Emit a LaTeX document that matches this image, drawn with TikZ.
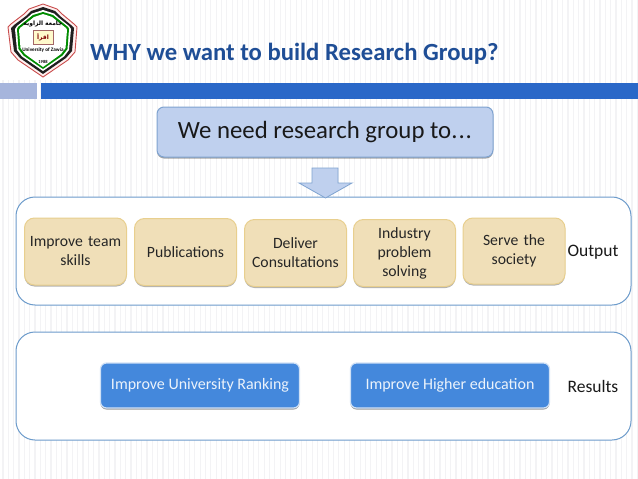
\documentclass[tikz,border=0pt]{standalone}
\usepackage{fontspec}
\setmainfont{Carlito}
\newfontfamily\arabicfont[Script=Arabic]{DejaVu Sans}
\TeXXeTstate=1
\usetikzlibrary{shadows}
\definecolor{titleblue}{HTML}{1F4E96}
\definecolor{barblue}{HTML}{2A68C8}
\definecolor{barlight}{HTML}{A6B5DC}
\definecolor{framel}{HTML}{6C9BCB}
\definecolor{topfill}{HTML}{BFD0EE}
\definecolor{topline}{HTML}{7FA3D0}
\definecolor{tan}{HTML}{F0DFB8}
\definecolor{tanline}{HTML}{E8CF8E}
\definecolor{btn}{HTML}{4488DC}
\definecolor{stripe}{HTML}{F3F3F5}
\tikzset{
  x=1pt,y=-1pt,
  frame/.style={draw=framel,line width=1pt,fill=white,rounded corners=19pt},
  tanbox/.style={draw=tanline,line width=1pt,fill=tan,rounded corners=10pt,
    drop shadow={shadow xshift=0pt,shadow yshift=-1.5pt,fill=black,opacity=.3},
    text width=102pt,align=center,font=\fontsize{15.7}{19}\selectfont,text=black!85,anchor=center,inner sep=0pt,minimum height=67pt},
  btnbox/.style={draw=btn!25!white,line width=1.2pt,fill=btn,rounded corners=6pt,text=white!90!btn,
    font=\fontsize{16}{18}\selectfont,inner sep=0pt,minimum width=199pt,
    minimum height=45pt,anchor=center,
    drop shadow={shadow xshift=0pt,shadow yshift=-1.5pt,fill=black,opacity=.4}},
  lbl/.style={font=\fontsize{17.5}{20}\selectfont,text=black!90,inner sep=0pt},
}
\begin{document}
\begin{tikzpicture}
\useasboundingbox (0,0) rectangle (638,479);
\fill[white] (0,0) rectangle (638,479);
\foreach \i in {0,...,119} {\draw[stripe,line width=1.2pt] ({3+\i*5.33},0) -- ({3+\i*5.33},479);}
% logo area
\fill[white] (2,0) rectangle (82,80);
% header bars
\fill[barlight] (0,83) rectangle (37,99);
\fill[barblue] (41,83) rectangle (638,99);
\node[anchor=west,inner sep=0pt,text=titleblue,font=\bfseries\fontsize{24.7}{28}\selectfont] (title) at (90,54) {WHY we want to build Research Group?};
% logo
\fill[draw=red!70!black!70,fill=red!6!white,line width=.9pt] (43,4) -- (57,9) -- (62,14) -- (74,24) -- (77,27) -- (75,52) -- (68,60) -- (43,77) -- (18,60) -- (11,52) -- (8,27) -- (11,24) -- (24,14) -- (29,9) -- cycle;
\fill[black!88] (43,7) -- (55,11) -- (60,16) -- (71,25) -- (74,28) -- (72,51) -- (66,58) -- (43,74) -- (20,58) -- (14,51) -- (11,28) -- (14,25) -- (26,16) -- (31,11) -- cycle;
\fill[white] (43,10) -- (54,13.5) -- (59,18) -- (69,26) -- (71,29) -- (69,50) -- (64,56.5) -- (43,71) -- (22,56.5) -- (17,50) -- (15,29) -- (17,26) -- (27,18) -- (32,13.5) -- cycle;
\fill[green!55!black] (43,12) -- (53,15) -- (58,19) -- (68,27) -- (69,29) -- (67.5,49) -- (62.5,55.5) -- (43,69) -- (23.5,55.5) -- (18.5,49) -- (17,29) -- (18,27) -- (28,19) -- (33,15) -- cycle;
\fill[white] (43,14) -- (52,17) -- (57,21) -- (66,28) -- (67,30) -- (65.5,48) -- (61,54) -- (43,67) -- (25,54) -- (20.5,48) -- (19,30) -- (20,28) -- (29,21) -- (34,17) -- cycle;
\fill[red!10!yellow!20!white,draw=red!40!black!60,line width=.5pt] (33,30) rectangle (53,44);
\node[inner sep=0pt,font=\arabicfont\bfseries\fontsize{6}{6}\selectfont,text=red!50!black] (lb) at (43,37) {\beginR اقرأ\endR};
\node[inner sep=0pt,font=\arabicfont\bfseries\fontsize{6}{6}\selectfont] (la) at (43,23.5) {\beginR جامعة الزاوية\endR};
\node[inner sep=0pt,font=\bfseries\fontsize{5.2}{5}\selectfont] (lu) at (43,50) {University of Zawia};
\node[inner sep=0pt,font=\bfseries\fontsize{4.5}{5}\selectfont] (ly) at (43,62) {1988};
% top box
\node[draw=topline,line width=1pt,fill=topfill,rounded corners=7pt,minimum width=336pt,minimum height=50pt,inner sep=0pt,
  drop shadow={shadow xshift=0pt,shadow yshift=-1.5pt,fill=black,opacity=.35},
  font=\fontsize{24.8}{28}\selectfont,text=black!90] (top) at (325,132) {\raisebox{-1pt}{We need research group to.\kern1pt.\kern1pt.}};
% frames
\draw[frame] (16,197) rectangle (631,305);
\draw[frame] (16,332) rectangle (631,440);
% down arrow
\filldraw[draw=topline,fill=topfill,line width=.8pt] (312,168) -- (338,168) -- (338,183) -- (352,183) -- (325.5,198) -- (299,183) -- (312,183) -- cycle;
% output boxes
\node[tanbox] (b1) at (75.5,251.5) {Improve team\\skills};
\node[tanbox] (b2) at (185.5,252) {Publications};
\node[tanbox] (b3) at (295.5,253) {Deliver\\Consultations};
\node[tanbox] (b4) at (404.5,253) {Industry\\problem\\solving};
\node[tanbox,minimum height=66pt] (b5) at (514,251) {Serve the\\society};
\node[lbl] (out) at (593,252.5) {Output};
% results
\node[btnbox] (r1) at (200,385.5) {\raisebox{-1pt}{Improve University Ranking}};
\node[btnbox] (r2) at (450,385.5) {\raisebox{-1pt}{Improve Higher education}};
\node[lbl] (res) at (593,386) {Results};
\end{tikzpicture}
\end{document}
